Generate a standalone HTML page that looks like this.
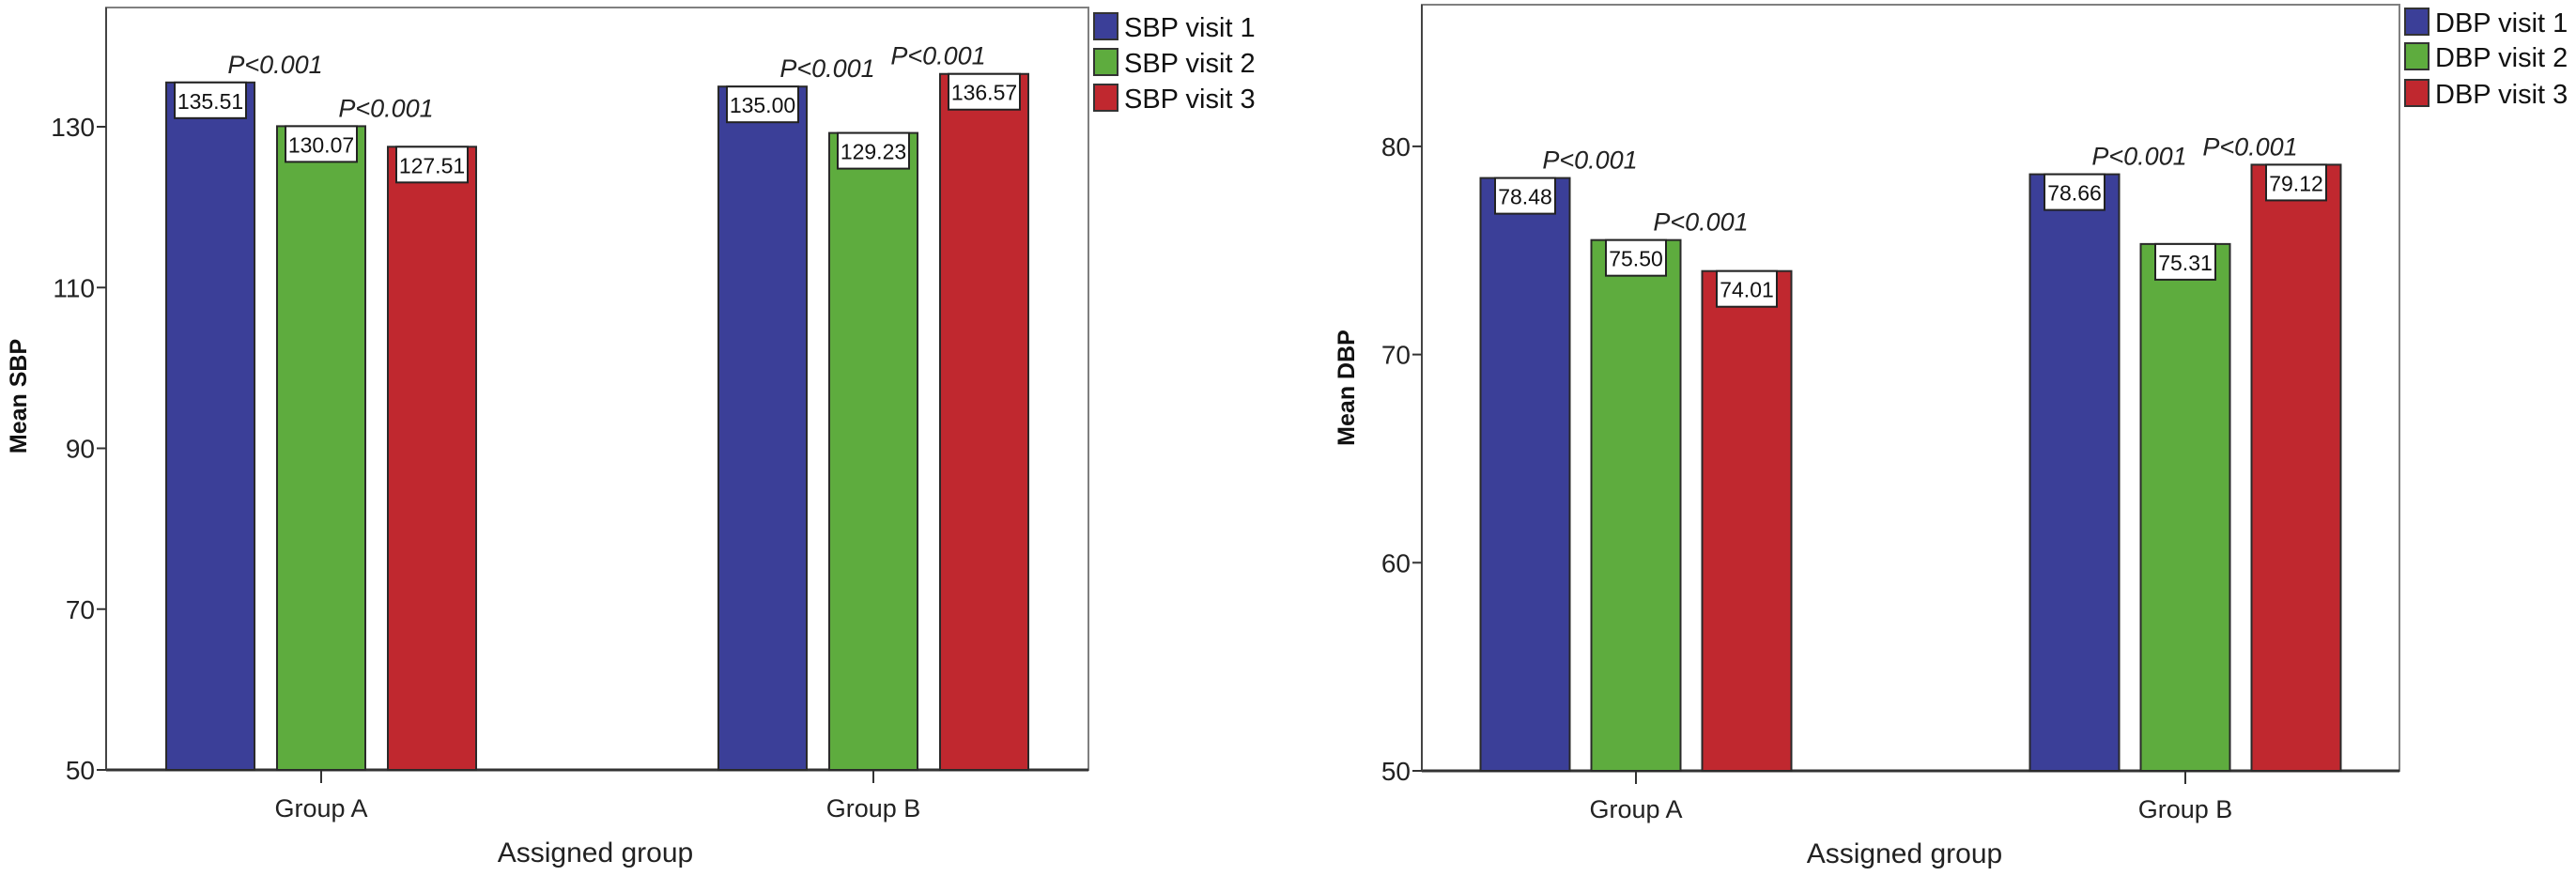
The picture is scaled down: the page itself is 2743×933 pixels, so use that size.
<!DOCTYPE html>
<html><head><meta charset="utf-8"><style>
html,body{margin:0;padding:0;background:#fff;}
svg{display:block;font-family:"Liberation Sans",sans-serif;}
</style></head><body>
<svg id="s" width="2743" height="933" viewBox="0 0 2743 933" xmlns="http://www.w3.org/2000/svg"></svg>
<script>
const groups = ["Group A", "Group B"];
const sbpVisit1 = [135.51, 135.00];
const sbpVisit2 = [130.07, 129.23];
const sbpVisit3 = [127.51, 136.57];
const sbpTicks = [50, 70, 90, 110, 130];
const dbpVisit1 = [78.48, 78.66];
const dbpVisit2 = [75.50, 75.31];
const dbpVisit3 = [74.01, 79.12];
const dbpTicks = [50, 60, 70, 80];
const pLabels = ["P<0.001", "P<0.001"];
const colors = ["#3b3f98", "#5eac3e", "#c0282f"];
const NS = "http://www.w3.org/2000/svg";
const svg = document.getElementById("s");
function mk(tag, attrs, parent, text){
  const e = document.createElementNS(NS, tag);
  for (const k in attrs) e.setAttribute(k, attrs[k]);
  if (text !== undefined) e.textContent = text;
  (parent || svg).appendChild(e);
  return e;
}
function chart(cfg){
  const g = mk("g", {});
  
  
  const y = v => cfg.y0 - (v - cfg.vmin) * cfg.k;
  const fr = mk("rect", {x: cfg.left, y: cfg.top, width: cfg.right - cfg.left, height: cfg.y0 - cfg.top, fill: "none", stroke: "#808080", "stroke-width": 2}, g);
  
  
  const ax = mk("line", {x1: cfg.left, x2: cfg.right, y1: cfg.y0, y2: cfg.y0, stroke: "#333", "stroke-width": 3}, g);
  
  
  const ay = mk("line", {x1: cfg.left, x2: cfg.left, y1: cfg.top, y2: cfg.y0, stroke: "#444", "stroke-width": 2}, g);
  
  
  cfg.ticks.forEach(t => {
    const tl = mk("line", {x1: cfg.left - 10, x2: cfg.left, y1: y(t), y2: y(t), stroke: "#333", "stroke-width": 2}, g);
    
    
    const tx = mk("text", {x: cfg.left - 12, y: y(t) + 10, "text-anchor": "end", "font-size": 28, fill: "#222"}, g, String(t));
    
    
  });
  const bw = cfg.bw, pitch = cfg.pitch;
  groups.forEach((gn, gi) => {
    const cx = cfg.centers[gi];
    const tk = mk("line", {x1: cx, x2: cx, y1: cfg.y0, y2: cfg.y0 + 14, stroke: "#333", "stroke-width": 2}, g);
    
    
    const gl = mk("text", {x: cx, y: cfg.y0 + 50, "text-anchor": "middle", "font-size": 27, fill: "#222"}, g, gn);
    
    
    const tops = [];
    cfg.series.forEach((s, si) => {
      const x = cx + (si - 1) * pitch - bw / 2;
      const v = s[gi];
      tops.push(y(v));
      const r = mk("rect", {x: x, y: y(v), width: bw, height: cfg.y0 - y(v), fill: colors[si], stroke: "#2a2a2a", "stroke-width": 2}, g);
      
      
      const lb = mk("rect", {x: x + bw / 2 - cfg.lw / 2, y: y(v), width: cfg.lw, height: 38, fill: "#fff", stroke: "#222", "stroke-width": 2}, g);
      
      
      const lt = mk("text", {x: x + bw / 2, y: y(v) + 28, "text-anchor": "middle", "font-size": 23, fill: "#111"}, g, v.toFixed(2));
      
      
    });
    [0, 1].forEach(pi => {
      const bx = cx + (pi - 0.5) * pitch + 10;
      const by = Math.min(tops[pi], tops[pi + 1]) - 10;
      const p = mk("text", {x: bx, y: by, "text-anchor": "middle", "font-size": 27, "font-style": "italic", fill: "#222"}, g, pLabels[pi]);
      
      
    });
  });
  const xt = mk("text", {x: cfg.xtx, y: cfg.y0 + 98, "text-anchor": "middle", "font-size": 30, fill: "#222"}, g, "Assigned group");
  
  
  const yt = mk("text", {x: 0, y: 0, "text-anchor": "middle", "font-size": 25, "font-weight": "bold", fill: "#111", transform: `translate(${cfg.ytx},${cfg.yty}) rotate(-90)`}, g, cfg.ytitle);
  
  
  cfg.legend.forEach((t, i) => {
    const sw = mk("rect", {x: cfg.right + 6, y: cfg.legY[i], width: 25, height: 28, fill: colors[i], stroke: "#333", "stroke-width": 2}, g);
    
    
    const lt = mk("text", {x: cfg.right + 38, y: cfg.legY[i] + 25, "font-size": 29, fill: "#111"}, g, t);
    
    
  });
}
chart({name: "sbp-chart", left: 113, right: 1159, top: 8, y0: 820, vmin: 50, k: 8.5625, ticks: sbpTicks,
  series: [sbpVisit1, sbpVisit2, sbpVisit3], centers: [342, 930], bw: 94, pitch: 118, lw: 76,
  xtx: 634, ytx: 28, yty: 422, ytitle: "Mean SBP", legend: ["SBP visit 1", "SBP visit 2", "SBP visit 3"], legY: [14, 52, 90]});
chart({name: "dbp-chart", left: 1514, right: 2555, top: 5, y0: 821, vmin: 50, k: 22.17, ticks: dbpTicks,
  series: [dbpVisit1, dbpVisit2, dbpVisit3], centers: [1742, 2327], bw: 95, pitch: 118, lw: 64,
  xtx: 2028, ytx: 1442, yty: 413, ytitle: "Mean DBP", legend: ["DBP visit 1", "DBP visit 2", "DBP visit 3"], legY: [9, 46, 85]});
</script>
</body></html>
